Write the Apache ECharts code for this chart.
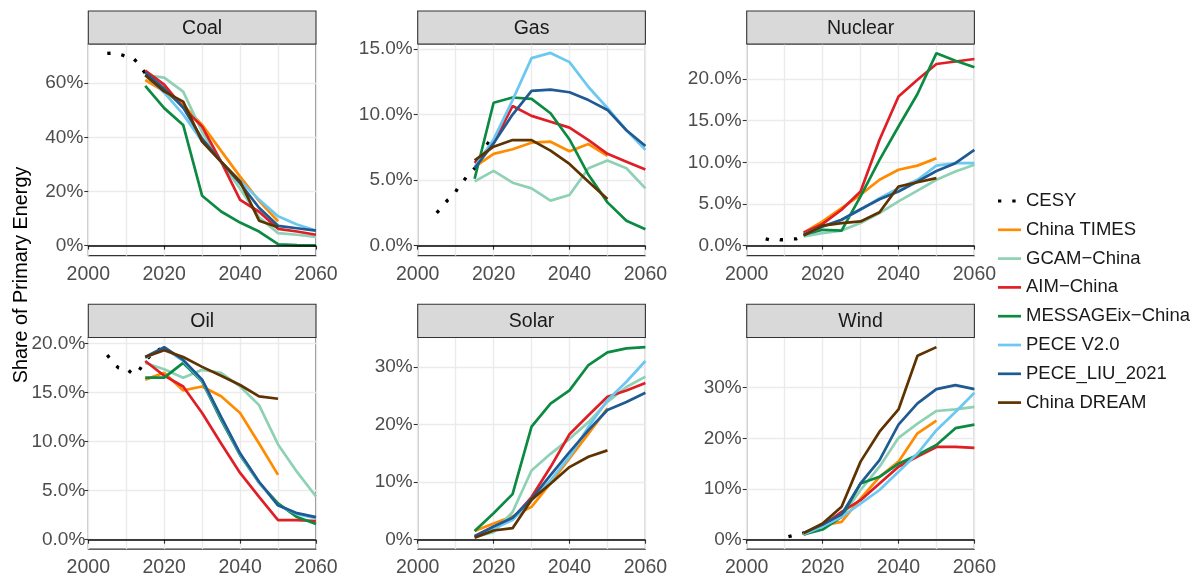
<!DOCTYPE html>
<html><head><meta charset="utf-8">
<script src="https://cdn.jsdelivr.net/npm/echarts@6/dist/echarts.min.js"></script>
<style>html,body{margin:0;padding:0;background:#fff}#c{width:1194px;height:581px}</style>
</head><body><div id="c"></div><script>
// ---------- data ----------
const years = [2015, 2020, 2025, 2030, 2035, 2040, 2045, 2050, 2055, 2060];
const cesyYears = [2005, 2006, 2007, 2008, 2009, 2010, 2011, 2012, 2013, 2014, 2015, 2016, 2017, 2018, 2019];
const panelNames = ['Coal', 'Gas', 'Nuclear', 'Oil', 'Solar', 'Wind'];
const modelNames = ['China TIMES', 'GCAM−China', 'AIM−China', 'MESSAGEix−China', 'PECE V2.0', 'PECE_LIU_2021', 'China DREAM'];
const cesyName = 'CESY';

const coalTicks = [0, 20, 40, 60];
const gasTicks = [0, 5, 10, 15];
const nucTicks = [0, 5, 10, 15, 20];
const oilTicks = [0, 5, 10, 15, 20];
const solTicks = [0, 10, 20, 30];
const windTicks = [0, 10, 20, 30];
const xTicks = [2000, 2020, 2040, 2060];

const coalCesy = [71.0, 71.1, 71.2, 70.8, 70.4, 69.8, 70.0, 69.0, 67.6, 65.6, 63.7, 62.0, 60.4, 59.0, 57.7];
const coalTimes = [61.2, 57.0, 52.0, 44.6, 35.0, 25.5, 16.5, 9.0];
const coalGcam = [63.0, 62.1, 56.9, 42.0, 31.0, 21.0, 10.5, 4.6, 4.0, 3.2];
const coalAim = [64.7, 59.5, 51.0, 44.0, 31.0, 16.9, 12.5, 6.2, 5.2, 4.0];
const coalMessage = [59.0, 50.8, 44.6, 18.4, 12.6, 8.5, 5.2, 0.5, 0.2, 0.1];
const coalPece = [63.0, 56.5, 48.5, 38.5, 31.0, 24.0, 17.0, 10.8, 7.8, 5.6];
const coalLiu = [64.0, 58.0, 51.0, 39.5, 31.0, 23.0, 14.0, 7.3, 6.4, 5.5];
const coalDream = [63.0, 57.0, 53.2, 38.4, 31.0, 23.7, 9.2, 6.8];

const gasCesy = [2.5, 2.8, 3.2, 3.5, 3.7, 4.1, 4.6, 4.9, 5.3, 5.6, 5.9, 6.2, 6.9, 7.6, 8.0];
const gasTimes = [6.0, 7.0, 7.35, 7.85, 7.93, 7.2, 7.75, 6.85];
const gasGcam = [4.9, 5.7, 4.8, 4.37, 3.43, 3.86, 5.9, 6.5, 5.9, 4.37];
const gasAim = [6.3, 7.8, 10.65, 9.9, 9.45, 9.0, 8.05, 7.0, 6.4, 5.8];
const gasMessage = [5.1, 10.9, 11.3, 11.2, 10.1, 8.1, 5.4, 3.3, 1.9, 1.25];
const gasPece = [6.0, 8.1, 11.1, 14.3, 14.7, 14.0, 12.1, 10.5, 8.8, 7.3];
const gasLiu = [5.9, 7.8, 10.0, 11.8, 11.9, 11.7, 11.1, 10.35, 8.8, 7.6];
const gasDream = [6.5, 7.55, 8.05, 8.05, 7.25, 6.23, 4.88, 3.56];

const nucCesy = [0.8, 0.7, 0.8, 0.8, 0.7, 0.7, 0.7, 0.8, 0.8, 1.0, 1.2, 1.5, 1.7, 2.0, 2.2];
const nucTimes = [1.56, 2.9, 4.5, 6.1, 7.9, 9.1, 9.6, 10.5];
const nucGcam = [1.1, 1.5, 1.8, 2.7, 3.9, 5.3, 6.6, 7.9, 8.9, 9.7];
const nucAim = [1.56, 2.6, 4.3, 6.5, 12.7, 17.9, 19.9, 21.8, 22.1, 22.4];
const nucMessage = [1.3, 1.9, 1.8, 5.9, 10.3, 14.3, 18.2, 23.1, 22.2, 21.4];
const nucPece = [1.3, 2.3, 3.1, 4.3, 5.7, 6.9, 7.9, 9.6, 9.9, 9.9];
const nucLiu = [1.3, 2.3, 3.1, 4.36, 5.56, 6.5, 7.7, 8.96, 9.9, 11.5];
const nucDream = [1.2, 2.4, 2.7, 2.9, 4.0, 7.1, 7.6, 8.1];

const oilCesy = [18.8, 18.3, 17.8, 17.5, 17.4, 17.5, 17.1, 16.8, 17.0, 17.6, 18.2, 18.6, 19.2, 19.3, 19.4];
const oilTimes = [16.3, 17.0, 15.2, 15.6, 14.6, 12.9, 9.8, 6.6];
const oilGcam = [18.0, 17.35, 16.5, 17.3, 17.0, 15.6, 13.7, 9.7, 6.9, 4.4];
const oilAim = [18.2, 16.7, 15.6, 12.9, 9.8, 6.8, 4.35, 2.0, 2.0, 1.9];
const oilMessage = [16.5, 16.5, 18.0, 16.1, 12.2, 8.6, 5.8, 3.7, 2.3, 1.6];
const oilPece = [18.5, 19.5, 18.2, 16.2, 12.4, 8.7, 5.8, 3.5, 2.6, 2.2];
const oilLiu = [18.6, 19.6, 18.3, 16.3, 12.5, 8.8, 5.9, 3.5, 2.7, 2.3];
const oilDream = [18.6, 19.3, 18.6, 17.6, 16.7, 15.75, 14.6, 14.35];

const solCesy = [];
const solTimes = [1.5, 2.8, 4.05, 5.7, 9.8, 14.1, 18.4, 22.8];
const solGcam = [0.5, 1.3, 4.8, 12.0, 14.9, 17.5, 20.4, 23.9, 26.5, 28.3];
const solAim = [0.6, 2.2, 3.6, 7.4, 12.6, 18.3, 21.6, 24.8, 25.9, 27.2];
const solMessage = [1.5, 4.6, 7.9, 19.6, 23.6, 25.9, 30.3, 32.5, 33.2, 33.4];
const solPece = [0.5, 1.9, 3.4, 6.8, 10.3, 14.4, 19.6, 24.2, 27.4, 31.0];
const solLiu = [0.6, 2.3, 3.8, 7.1, 11.2, 15.2, 19.0, 22.5, 23.9, 25.5];
const solDream = [0.35, 1.6, 2.0, 6.95, 9.7, 12.6, 14.4, 15.5];

const windCesy = [null, null, null, null, null, null, 0.6, 0.8, 1.0, 1.1, 1.3, 1.5, 1.8, 2.1, 2.4];
const windTimes = [0.9, 2.8, 3.5, 8.1, 12.4, 15.4, 21.0, 23.5];
const windGcam = [1.2, 2.8, 4.5, 9.8, 14.4, 20.1, 22.9, 25.4, 25.7, 26.2];
const windAim = [1.2, 2.8, 5.5, 7.8, 11.1, 14.4, 16.4, 18.3, 18.3, 18.1];
const windMessage = [1.05, 2.0, 4.5, 11.1, 12.4, 15.0, 16.7, 18.7, 22.0, 22.7];
const windPece = [1.05, 2.6, 4.5, 7.1, 9.8, 13.4, 17.0, 21.6, 25.2, 29.0];
const windLiu = [1.3, 3.0, 5.0, 11.1, 15.7, 22.7, 26.9, 29.7, 30.5, 29.7];
const windDream = [1.3, 3.2, 6.5, 15.4, 21.3, 25.7, 36.3, 38.0];

// ---------- styling / layout ----------
const modelColors = ['#FF8C00', '#8ED1B4', '#E01E26', '#0B8A42', '#6CC8F0', '#1F5A93', '#5E3300'];
const FONT = "'Liberation Sans', Arial, sans-serif";
const colLeft = [88.3, 417.7, 746.7];
const rowTop = [44, 337.5];
const stripTop = [11, 304.3];
const PW = 227.7, PH = 211.6;

const panels = [
  { cesy: coalCesy, models: [coalTimes, coalGcam, coalAim, coalMessage, coalPece, coalLiu, coalDream], ticks: coalTicks, dec: 0, min: -3.7, max: 74.5, lm: 5 },
  { cesy: gasCesy, models: [gasTimes, gasGcam, gasAim, gasMessage, gasPece, gasLiu, gasDream], ticks: gasTicks, dec: 1, min: -0.76, max: 15.38, lm: 5 },
  { cesy: nucCesy, models: [nucTimes, nucGcam, nucAim, nucMessage, nucPece, nucLiu, nucDream], ticks: nucTicks, dec: 1, min: -1.2, max: 24.2, lm: 5 },
  { cesy: oilCesy, models: [oilTimes, oilGcam, oilAim, oilMessage, oilPece, oilLiu, oilDream], ticks: oilTicks, dec: 1, min: -0.96, max: 20.59, lm: 3 },
  { cesy: solCesy, models: [solTimes, solGcam, solAim, solMessage, solPece, solLiu, solDream], ticks: solTicks, dec: 0, min: -1.63, max: 35.08, lm: 5 },
  { cesy: windCesy, models: [windTimes, windGcam, windAim, windMessage, windPece, windLiu, windDream], ticks: windTicks, dec: 0, min: -1.86, max: 39.9, lm: 5 }
];

const grids = [], xAxes = [], yAxes = [], series = [], graphics = [];
const gridLine = { color: '#EBEBEB', width: 1.4 };
const tickLine = { color: '#333333', width: 1.1 };

panels.forEach((p, i) => {
  const c = i % 3, r = Math.floor(i / 3);
  grids.push({ left: colLeft[c], top: rowTop[r], width: PW, height: PH, show: true,
    backgroundColor: '#fff', borderColor: '#333333', borderWidth: 1.1, containLabel: false, outerBoundsMode: 'none' });
  xAxes.push({ type: 'value', gridIndex: i, min: 2000, max: 2060, interval: 20,
    axisLine: { show: false },
    axisTick: { show: true, length: 4, lineStyle: tickLine, customValues: xTicks },
    axisLabel: { fontSize: 19.5, color: '#4D4D4D', fontFamily: FONT, margin: 9, customValues: xTicks,
      formatter: v => String(v) },
    splitLine: { show: true, lineStyle: gridLine },
    minorTick: { show: false, splitNumber: 2 },
    minorSplitLine: { show: true, lineStyle: gridLine } });
  yAxes.push({ type: 'value', gridIndex: i, min: p.min, max: p.max,
    axisLine: { show: false },
    axisTick: { show: true, length: 4, lineStyle: tickLine, customValues: p.ticks },
    axisLabel: { fontSize: 19, color: '#4D4D4D', fontFamily: FONT, margin: p.lm, customValues: p.ticks,
      formatter: v => v.toFixed(p.dec) + '%' },
    splitLine: { show: true, lineStyle: gridLine } });

  if (p.cesy.length) {
    series.push({ type: 'line', name: cesyName, xAxisIndex: i, yAxisIndex: i,
      data: cesyYears.map((y, k) => [y, p.cesy[k] == null ? null : p.cesy[k]]),
      symbol: 'none', showSymbol: false, connectNulls: false, silent: true, animation: false,
      lineStyle: { color: '#000', width: 3.3, type: [3.3, 11], cap: 'butt' },
      itemStyle: { color: '#000' } });
  }
  p.models.forEach((vals, m) => {
    const s = { type: 'line', name: modelNames[m], xAxisIndex: i, yAxisIndex: i,
      data: vals.map((v, k) => [years[k], v]),
      symbol: 'none', showSymbol: false, silent: true, animation: false,
      lineStyle: { color: modelColors[m], width: 2.7 },
      itemStyle: { color: modelColors[m] } };
    if (m === 0) {
      s.markLine = { silent: true, symbol: ['none', 'none'], animation: false,
        label: { show: false }, lineStyle: { color: '#000', width: 1.7, type: 'solid' },
        data: [{ yAxis: 0 }] };
    }
    series.push(s);
  });

  graphics.push({ type: 'rect', shape: { x: colLeft[c], y: stripTop[r], width: PW, height: rowTop[r] - stripTop[r] },
    style: { fill: '#D9D9D9', stroke: '#333333', lineWidth: 1.1 }, z: 10 });
  graphics.push({ type: 'text', x: colLeft[c] + PW / 2, y: (stripTop[r] + rowTop[r]) / 2 + 1,
    style: { text: panelNames[i], fontSize: 19.5, fontFamily: FONT, fill: '#1A1A1A',
      textAlign: 'center', textVerticalAlign: 'middle', align: 'center', verticalAlign: 'middle' }, z: 11 });
});

graphics.push({ type: 'text', x: 22, y: 275, rotation: Math.PI / 2,
  style: { text: 'Share of Primary Energy', fontSize: 19.8, fontFamily: FONT, fill: '#000000',
    textAlign: 'center', textVerticalAlign: 'middle', align: 'center', verticalAlign: 'middle' }, z: 11 });

// legend icons: 23x14 boxes (corner points fix the bounds)
const cesyIcon = 'path://M0,0L0,0M23,14L23,14M0,5.4L3.3,5.4L3.3,8.6L0,8.6Z M14.3,5.4L17.6,5.4L17.6,8.6L14.3,8.6Z';
const lineIcon = 'path://M0,0L0,0M23,14L23,14M0,5.65L23,5.65L23,8.35L0,8.35Z';
const legendItems = [{ name: cesyName, icon: cesyIcon, itemStyle: { color: '#000' } }]
  .concat(modelNames.map((n, m) => ({ name: n, icon: lineIcon, itemStyle: { color: modelColors[m] } })));

const chart = echarts.init(document.getElementById('c'), null, { renderer: 'canvas' });
chart.setOption({
  animation: false,
  backgroundColor: '#fff',
  grid: grids, xAxis: xAxes, yAxis: yAxes, series: series, graphic: graphics,
  legend: { orient: 'vertical', left: 998, top: 191.5, padding: 0, itemWidth: 23, itemHeight: 14, itemGap: 9.8,
    selectedMode: false, data: legendItems,
    textStyle: { fontSize: 18.5, color: '#1A1A1A', fontFamily: FONT } }
});
</script></body></html>
